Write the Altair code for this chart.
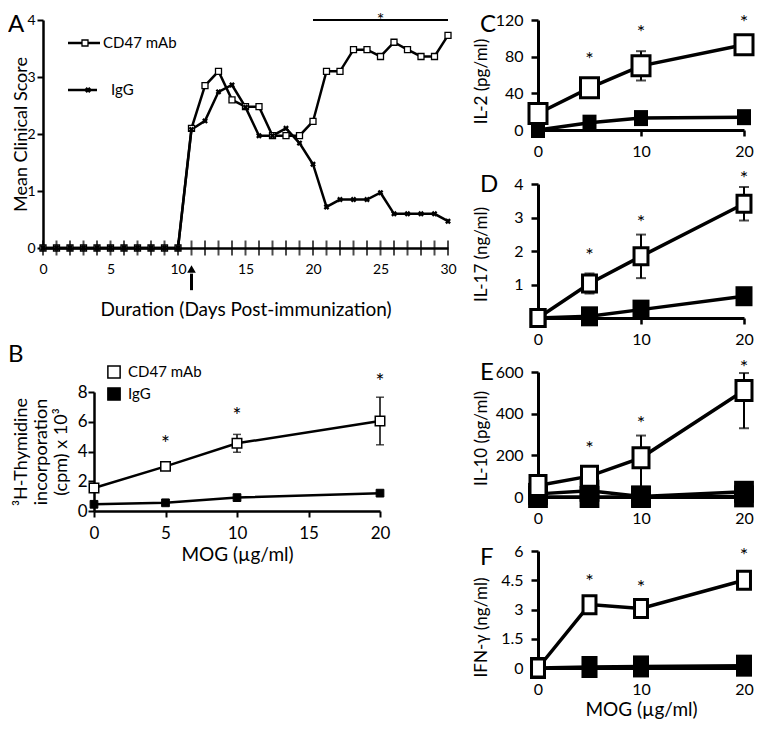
import altair as alt
import pandas as pd

FONT = "Lato"

# ---------------- Panel A: mean clinical score ----------------
a_days = [0, 1, 2, 3, 4, 5, 6, 7, 8, 9, 10, 11, 12, 13, 14, 15, 16, 17, 18, 19, 20,
          21, 22, 23, 24, 25, 26, 27, 28, 29, 30]
a_cd47 = [0, 0, 0, 0, 0, 0, 0, 0, 0, 0, 0, 2.1, 2.85, 3.1, 2.6, 2.48, 2.48, 1.97, 1.97, 1.97, 2.22,
          3.1, 3.1, 3.48, 3.48, 3.36, 3.61, 3.48, 3.36, 3.36, 3.73]
a_igg = [0, 0, 0, 0, 0, 0, 0, 0, 0, 0, 0, 2.08, 2.23, 2.74, 2.86, 2.47, 1.97, 1.97, 2.1, 1.84, 1.47,
         0.72, 0.85, 0.85, 0.85, 0.97, 0.6, 0.6, 0.6, 0.6, 0.47]
a_x_labels = [0, 5, 10, 15, 20, 25, 30]
a_y_labels = [0, 1, 2, 3, 4]
a_sig_start, a_sig_end, a_sig_level = 20, 30, 4
a_treat_day = 11
a_legend_labels = ["CD47 mAb", "IgG"]

# ---------------- MOG recall panels ----------------
mog = [0, 5, 10, 20]
star_x = [5, 10, 20]
series_labels = ["CD47 mAb", "IgG"]

b_cd47 = [1.55, 3.0, 4.55, 6.05]
b_cd47_err = [0.2, 0.2, 0.6, 1.6]
b_igg = [0.45, 0.55, 0.9, 1.2]
b_star_y = [4.8, 6.7, 9.0]
b_y_labels = [0, 2, 4, 6, 8]
b_x_labels = [0, 5, 10, 15, 20]

c_cd47 = [18, 46, 70, 93]
c_err_lo = [0, 4, 16, 6]
c_err_hi = [0, 4, 16, 6]
c_igg = [0, 8, 13, 14]
c_star_y = [82, 112, 122]
c_y_labels = [0, 40, 80, 120]

d_cd47 = [0, 1.03, 1.84, 3.41]
d_err_lo = [0, 0.3, 0.65, 0.5]
d_err_hi = [0, 0.3, 0.65, 0.5]
d_igg = [0, 0.05, 0.25, 0.65]
d_star_y = [2.0, 3.0, 4.3]
d_y_labels = [1, 2, 3, 4]

e_cd47 = [55, 100, 188, 511]
e_err_lo = [0, 0, 140, 181]
e_err_hi = [0, 0, 107, 84]
e_igg = [15, 30, 3, 25]
e_igg_b = [0, 0, 0, 3]
e_star_y = [258, 376, 645]
e_y_labels = [0, 200, 400, 600]

f_cd47 = [0, 3.25, 3.05, 4.5]
f_err_lo = [0, 0, 0, 0]
f_err_hi = [0, 0, 0, 0]
f_igg = [0, 0.05, 0.08, 0.12]
f_star_y = [4.67, 4.37, 6.0]
f_y_labels = [0, 1.5, 3, 4.5, 6]


def rect_path(w):
    return f"M-{w},-1H{w}V1H-{w}Z"


def letter_layer(letter, x, y):
    return alt.Chart(pd.DataFrame({"t": [letter]})).mark_text(
        fontSize=24, align="left", baseline="alphabetic", font=FONT, color="black"
    ).encode(x=alt.value(x), y=alt.value(y), text="t:N")


# ================= Panel A =================
a_df = pd.DataFrame({"x": a_days, "cd47": a_cd47, "igg": a_igg, "zero": [0] * len(a_days)})
a_xs = alt.Scale(domain=[0, 30], nice=False, zero=False)
a_ys = alt.Scale(domain=[0, 4], nice=False, zero=False)
a_xaxis = alt.Axis(values=a_x_labels, ticks=False, tickSize=0, labelPadding=14, labelFontSize=14,
                   domainWidth=2.5, title="Duration (Days Post-immunization)", titleFontSize=19,
                   titlePadding=24, minExtent=28, maxExtent=28, zindex=1)
a_yaxis = alt.Axis(values=a_y_labels, tickSize=6, tickWidth=2, labelPadding=2, labelFontSize=14,
                   domainWidth=2.5, title="Mean Clinical Score", titleFontSize=18, titlePadding=0,
                   minExtent=13, maxExtent=13)


def AX(f):
    return alt.X(f"{f}:Q", scale=a_xs, axis=a_xaxis)


def AY(f):
    return alt.Y(f"{f}:Q", scale=a_ys, axis=a_yaxis)


a_base = alt.Chart(a_df)
a_line_cd = a_base.mark_line(color="black", strokeWidth=2.5).encode(x=AX("x"), y=AY("cd47"))
a_line_ig = a_base.mark_line(color="black", strokeWidth=2.5).encode(x=AX("x"), y=AY("igg"))
a_pt_cd = a_base.mark_point(shape="square", filled=True, fill="white", stroke="black", strokeWidth=1.3,
                            size=36, opacity=1).encode(x=AX("x"), y=AY("cd47"))
a_ticks = a_base.mark_tick(orient="vertical", size=15, thickness=2, color="black").encode(
    x=AX("x"), y=AY("zero"))
a_pt_ig = a_base.mark_point(shape="cross", angle=45, filled=True, color="black", size=35,
                            opacity=1).encode(x=AX("x"), y=AY("igg"))

a_sig_df = pd.DataFrame({"x": [a_sig_start], "x2": [a_sig_end], "y": [a_sig_level],
                         "xm": [(a_sig_start + a_sig_end) / 2], "t": ["*"]})
a_sig = alt.Chart(a_sig_df).mark_rule(color="black", strokeWidth=2).encode(x=AX("x"), x2="x2:Q", y=AY("y"))
a_star = alt.Chart(a_sig_df).mark_text(fontSize=18, baseline="middle", dy=0.5, color="black").encode(
    x=AX("xm"), y=AY("y"), text="t:N")

a_arrow_df = pd.DataFrame({"x": [a_treat_day], "y": [-0.74], "y2": [-0.45], "head": [-0.37]})
a_arrow = alt.Chart(a_arrow_df).mark_rule(color="black", strokeWidth=3).encode(
    x=AX("x"), y=AY("y"), y2="y2:Q")
a_head = alt.Chart(a_arrow_df).mark_point(shape="triangle-up", filled=True, color="black", size=75,
                                          opacity=1).encode(x=AX("x"), y=AY("head"))

# legend of panel A, drawn in the panel's pixel space
a_leg = pd.DataFrame({"label": a_legend_labels})
a_leg_line1 = alt.Chart(a_leg.iloc[[0]]).mark_rule(color="black", strokeWidth=2.5).encode(
    x=alt.value(25), x2=alt.value(57), y=alt.value(23))
a_leg_line2 = alt.Chart(a_leg.iloc[[1]]).mark_rule(color="black", strokeWidth=2.5).encode(
    x=alt.value(25), x2=alt.value(54), y=alt.value(70))
a_leg_sq = alt.Chart(a_leg.iloc[[0]]).mark_point(shape="square", filled=True, fill="white", stroke="black",
                                                  strokeWidth=1.3, size=36, opacity=1).encode(
    x=alt.value(42), y=alt.value(23))
a_leg_x = alt.Chart(a_leg.iloc[[1]]).mark_point(shape="cross", angle=45, filled=True, color="black",
                                                 size=35, opacity=1).encode(x=alt.value(45), y=alt.value(70))
a_leg_t1 = alt.Chart(a_leg.iloc[[0]]).mark_text(fontSize=15, align="left", baseline="middle",
                                                color="black").encode(
    x=alt.value(60), y=alt.value(23), text="label:N")
a_leg_t2 = alt.Chart(a_leg.iloc[[1]]).mark_text(fontSize=15, align="left", baseline="middle",
                                                color="black").encode(
    x=alt.value(68), y=alt.value(70), text="label:N")

panel_a = alt.layer(
    a_line_cd, a_line_ig, a_pt_cd, a_ticks, a_pt_ig, a_sig, a_star, a_arrow, a_head,
    a_leg_line1, a_leg_line2, a_leg_sq, a_leg_x, a_leg_t1, a_leg_t2, letter_layer("A", -35, 12)
).properties(width=405, height=228)

# ================= Panel B =================
b_xs = alt.Scale(domain=[0, 20], nice=False, zero=False)
b_ys = alt.Scale(domain=[0, 8], nice=False, zero=False)
b_xaxis = alt.Axis(values=b_x_labels, tickSize=6, tickWidth=2, labelPadding=8, labelFontSize=17,
                   domainWidth=2.5, title="MOG (µg/ml)", titleFontSize=19, titlePadding=4)
b_yaxis = alt.Axis(values=b_y_labels, tickSize=6, tickWidth=2, labelPadding=1, labelFontSize=17,
                   domainWidth=2.5, title=["³H-Thymidine", "incorporation", "(cpm) x 10³"],
                   titleFontSize=18, titleLineHeight=20, titlePadding=7, minExtent=17, maxExtent=17)


def BX(f):
    return alt.X(f"{f}:Q", scale=b_xs, axis=b_xaxis)


def BY(f):
    return alt.Y(f"{f}:Q", scale=b_ys, axis=b_yaxis)


b_df = pd.DataFrame({"x": mog, "cd47": b_cd47, "igg": b_igg,
                     "lo": [v - e for v, e in zip(b_cd47, b_cd47_err)],
                     "hi": [v + e for v, e in zip(b_cd47, b_cd47_err)]})
b_caps = pd.DataFrame({"x": mog + mog, "y": list(b_df["lo"]) + list(b_df["hi"])})
b_star_df = pd.DataFrame({"x": star_x, "y": b_star_y, "t": ["*"] * 3})

b_line_cd = alt.Chart(b_df).mark_line(color="black", strokeWidth=2.5).encode(x=BX("x"), y=BY("cd47"))
b_line_ig = alt.Chart(b_df).mark_line(color="black", strokeWidth=2.5).encode(x=BX("x"), y=BY("igg"))
b_err = alt.Chart(b_df).mark_rule(color="black", strokeWidth=1.5).encode(x=BX("x"), y=BY("lo"), y2="hi:Q")
b_cap = alt.Chart(b_caps).mark_tick(orient="horizontal", size=8, thickness=1.5, color="black").encode(
    x=BX("x"), y=BY("y"))
b_pt_ig = alt.Chart(b_df).mark_point(shape="square", filled=True, fill="black", stroke="black",
                                     strokeWidth=1, size=60, opacity=1).encode(x=BX("x"), y=BY("igg"))
b_pt_cd = alt.Chart(b_df).mark_point(shape="square", filled=True, fill="white", stroke="black",
                                     strokeWidth=1.5, size=90, opacity=1).encode(x=BX("x"), y=BY("cd47"))
b_star = alt.Chart(b_star_df).mark_text(fontSize=21, baseline="middle", dy=5.5, color="black").encode(
    x=BX("x"), y=BY("y"), text="t:N")

# legend (drawn in pixel space of the panel)
b_leg = pd.DataFrame({"label": series_labels})
b_leg_sq1 = alt.Chart(b_leg.iloc[[0]]).mark_point(shape="square", filled=True, fill="white", stroke="black",
                                                   strokeWidth=1.5, size=150, opacity=1).encode(
    x=alt.value(20), y=alt.value(-20))
b_leg_sq2 = alt.Chart(b_leg.iloc[[1]]).mark_point(shape="square", filled=True, fill="black", stroke="black",
                                                   strokeWidth=1.5, size=150, opacity=1).encode(
    x=alt.value(20), y=alt.value(2))
b_leg_t1 = alt.Chart(b_leg.iloc[[0]]).mark_text(fontSize=15, align="left", baseline="middle",
                                                color="black").encode(
    x=alt.value(34), y=alt.value(-20), text="label:N")
b_leg_t2 = alt.Chart(b_leg.iloc[[1]]).mark_text(fontSize=15, align="left", baseline="middle",
                                                color="black").encode(
    x=alt.value(34), y=alt.value(2), text="label:N")

panel_b = alt.layer(
    b_line_cd, b_line_ig, b_err, b_cap, b_pt_ig, b_pt_cd, b_star,
    b_leg_sq1, b_leg_sq2, b_leg_t1, b_leg_t2, letter_layer("B", -86, -30)
).properties(width=286, height=119)

spacer = alt.Chart(pd.DataFrame({"v": [0]})).mark_point(opacity=0).encode(
    x=alt.X("v:Q", axis=None), y=alt.Y("v:Q", axis=None)).properties(width=1, height=1)

RIGHT_W = 206


# ================= Panels C-F =================
def mog_panel(letter, letter_y, cd47, lo_err, hi_err, igg, star_y, ymax, yvals, yfmt, ytitle, height,
              title_y, open_w, open_size, fill_w, fill_size, extra=None, xtitle=None):
    xs = alt.Scale(domain=[0, 20], nice=False, zero=False)
    ys = alt.Scale(domain=[0, ymax], nice=False, zero=False)
    if xtitle:
        xaxis = alt.Axis(values=[0, 10, 20], tickSize=6, tickWidth=2.5, labelPadding=7, labelFontSize=16,
                         domainWidth=3, title=xtitle, titleFontSize=19, titlePadding=3)
    else:
        xaxis = alt.Axis(values=[0, 10, 20], tickSize=6, tickWidth=2.5, labelPadding=7, labelFontSize=16,
                         domainWidth=3, title=None)
    yaxis = alt.Axis(values=yvals, format=yfmt, tickSize=7, tickWidth=2.5, labelPadding=8,
                     labelFontSize=16, domainWidth=3, title=ytitle, titleFontSize=17, titlePadding=8,
                     titleY=title_y, minExtent=40, maxExtent=40)

    def X(f):
        return alt.X(f"{f}:Q", scale=xs, axis=xaxis)

    def Y(f):
        return alt.Y(f"{f}:Q", scale=ys, axis=yaxis)

    df = pd.DataFrame({"x": mog, "cd47": cd47, "igg": igg,
                       "lo": [v - e for v, e in zip(cd47, lo_err)],
                       "hi": [v + e for v, e in zip(cd47, hi_err)],
                       "err": [a + b for a, b in zip(lo_err, hi_err)]})
    err_df = df[df["err"] > 0]
    caps = pd.DataFrame({"x": list(err_df["x"]) * 2, "y": list(err_df["lo"]) + list(err_df["hi"])})
    stars = pd.DataFrame({"x": star_x, "y": star_y, "t": ["*"] * 3})

    layers = [
        alt.Chart(df).mark_line(color="black", strokeWidth=3.5).encode(x=X("x"), y=Y("igg")),
        alt.Chart(df).mark_line(color="black", strokeWidth=3.5).encode(x=X("x"), y=Y("cd47")),
    ]
    if extra is not None:
        edf = pd.DataFrame({"x": mog, "v": extra})
        layers.append(alt.Chart(edf).mark_line(color="black", strokeWidth=3.5).encode(x=X("x"), y=Y("v")))
        layers.append(alt.Chart(edf).mark_point(shape=rect_path(fill_w), size=fill_size, filled=True,
                                                fill="black", strokeWidth=0, opacity=1).encode(
            x=X("x"), y=Y("v")))
    if len(err_df):
        layers.append(alt.Chart(err_df).mark_rule(color="black", strokeWidth=2).encode(
            x=X("x"), y=Y("lo"), y2="hi:Q"))
        layers.append(alt.Chart(caps).mark_tick(orient="horizontal", size=10, thickness=2, color="black").encode(
            x=X("x"), y=Y("y")))
    layers.append(alt.Chart(df).mark_point(shape=rect_path(fill_w), size=fill_size, filled=True,
                                           fill="black", strokeWidth=0, opacity=1).encode(x=X("x"), y=Y("igg")))
    layers.append(alt.Chart(df).mark_point(shape=rect_path(open_w), size=open_size, filled=True,
                                           fill="white", stroke="black", strokeWidth=3, opacity=1).encode(
        x=X("x"), y=Y("cd47")))
    layers.append(alt.Chart(stars).mark_text(fontSize=20, baseline="middle", dy=5.3, color="black").encode(
        x=X("x"), y=Y("y"), text="t:N"))
    layers.append(letter_layer(letter, -58, letter_y))
    return alt.layer(*layers).properties(width=RIGHT_W, height=height)


panel_c = mog_panel("C", 12, c_cd47, c_err_lo, c_err_hi, c_igg, c_star_y, 120, c_y_labels, "d",
                    "IL-2 (pg/ml)", 110, 61, 0.9, 400, 0.875, 256)
panel_d = mog_panel("D", 8, d_cd47, d_err_lo, d_err_hi, d_igg, d_star_y, 4, d_y_labels, "d",
                    "IL-17 (ng/ml)", 134, 70, 0.82, 289, 0.85, 400)
panel_e = mog_panel("E", 8, e_cd47, e_err_lo, e_err_hi, e_igg, e_star_y, 600, e_y_labels, "d",
                    "IL-10 (pg/ml)", 125, 66, 0.8, 400, 0.9, 484, extra=e_igg_b)
panel_f = mog_panel("F", 14, f_cd47, f_err_lo, f_err_hi, f_igg, f_star_y, 6, f_y_labels, ".1~f",
                    "IFN-γ (ng/ml)", 117, 76, 0.72, 324, 0.73, 484, xtitle="MOG (µg/ml)")

left = alt.vconcat(panel_a, alt.hconcat(spacer, panel_b, spacing=50, bounds="flush"),
                   spacing=144, bounds="flush")
right = alt.vconcat(panel_c, panel_d, panel_e, panel_f, spacing=54, bounds="flush")

chart = alt.hconcat(left, right, spacing=15).properties(
    autosize=alt.AutoSizeParams(type="none"),
    padding={"left": 35, "top": 12, "right": 712, "bottom": 704},
).configure_view(strokeWidth=0).configure_axis(
    labelFont=FONT, titleFont=FONT, labelColor="black", titleColor="black", domainColor="black",
    tickColor="black", titleFontWeight="normal", grid=False, labelFlush=False, labelOverlap=False,
).configure_text(font=FONT)

chart.save("out.html", embed_options={"renderer": "svg", "actions": False})
